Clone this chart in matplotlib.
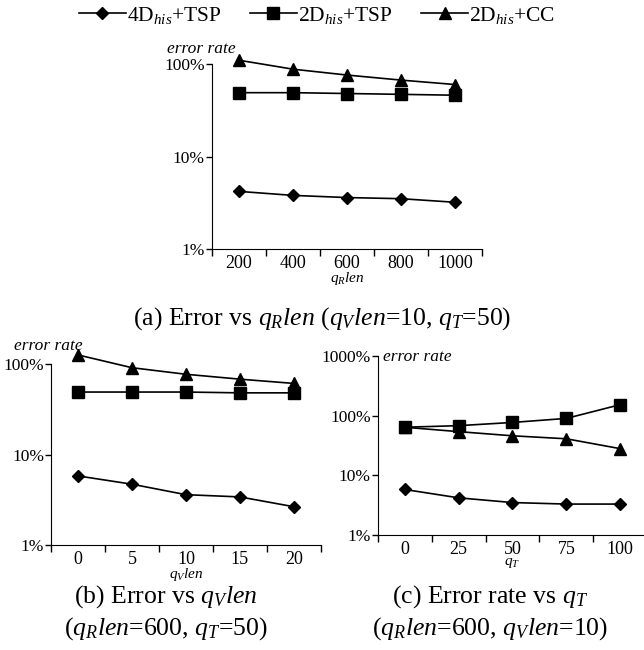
import matplotlib
matplotlib.use("Agg")
import matplotlib.pyplot as plt
import numpy as np

plt.rcParams['font.family'] = ['Liberation Serif', 'DejaVu Serif']
plt.rcParams['mathtext.fontset'] = 'custom'
plt.rcParams['mathtext.rm'] = 'Liberation Serif'
plt.rcParams['mathtext.it'] = 'Liberation Serif:italic'

# data (error rate in %)
a_labels = ['200', '400', '600', '800', '1000']
a_4d_tsp = [4.2, 3.8, 3.6, 3.5, 3.2]
a_2d_tsp = [49, 49, 48, 47, 46]
a_2d_cc = [110, 88, 76, 67, 60]

b_labels = ['0', '5', '10', '15', '20']
b_4d_tsp = [5.8, 4.7, 3.6, 3.4, 2.65]
b_2d_tsp = [49, 49, 49, 48, 48]
b_2d_cc = [126, 91, 77, 68, 61]

c_labels = ['0', '25', '50', '75', '100']
c_4d_tsp = [5.8, 4.2, 3.5, 3.3, 3.3]
c_2d_tsp = [64, 68, 77, 90, 153]
c_2d_cc = [64, 54, 46, 41, 28]

series_names = ['4D$_{his}$+TSP', '2D$_{his}$+TSP', '2D$_{his}$+CC']
markers = ['D', 's', '^']
msizes = [6.5, 8, 8.5]

fig = plt.figure(figsize=(6.44, 6.5), dpi=100)


def panel(rect, labels, series, ytop, xlabel, ylab_xy):
    ax = fig.add_axes(rect)
    x = np.arange(len(labels)) + 0.5
    lines = []
    for ys, m, ms, name in zip(series, markers, msizes, series_names):
        ln, = ax.plot(x, ys, color='black', lw=1.2, marker=m, ms=ms,
                      clip_on=False, label=name)
        lines.append(ln)
    ax.set_yscale('log')
    ax.set_ylim(1, ytop)
    ax.set_xlim(0, len(labels))
    yt = [1, 10, 100] + ([1000] if ytop >= 1000 else [])
    ax.set_yticks(yt)
    ax.set_yticklabels(['%d%%' % v for v in yt])
    ax.yaxis.set_minor_locator(matplotlib.ticker.NullLocator())
    ax.set_xticks(np.arange(len(labels) + 1))
    ax.set_xticklabels([''] * (len(labels) + 1))
    ax.set_xticks(x, minor=True)
    ax.set_xticklabels(labels, minor=True)
    ax.tick_params(axis='x', which='major', direction='out', length=5, width=1)
    ax.tick_params(axis='x', which='minor', length=0, labelsize=13, pad=4)
    ax.tick_params(axis='y', direction='out', length=4, width=1, labelsize=12.5, pad=1)
    ax.spines['top'].set_visible(False)
    ax.spines['right'].set_visible(False)
    ax.set_xlabel(xlabel, fontsize=11, labelpad=-1)
    fig.text(ylab_xy[0], ylab_xy[1], 'error rate', style='italic', fontsize=12.5,
             ha='center', va='center')
    return lines


lines = panel([0.3287, 0.6169, 0.4202, 0.2846], a_labels,
              [a_4d_tsp, a_2d_tsp, a_2d_cc], 100, '$q_{R}len$',
              (201 / 644, 1 - 49 / 650))
panel([0.0792, 0.1615, 0.4190, 0.2785], b_labels,
      [b_4d_tsp, b_2d_tsp, b_2d_cc], 100, '$q_{V}len$',
      (48 / 644, 1 - 346 / 650))
panel([0.5865, 0.1769, 0.4185, 0.2754], c_labels,
      [c_4d_tsp, c_2d_tsp, c_2d_cc], 1000, '$q_{T}$',
      (417 / 644, 1 - 357 / 650))

fig.legend(handles=lines, loc='center', bbox_to_anchor=(317 / 644, 1 - 15 / 650),
           ncol=3, frameon=False, fontsize=15.5, handlelength=2.2,
           columnspacing=1.3, handletextpad=0.05)

fig.text(322 / 644, 1 - 319 / 650,
         '(a) Error vs $q_{R}len$ ($q_{V}len$=10, $q_{T}$=50)',
         fontsize=18.5, ha='center', va='center')
fig.text(166 / 644, 1 - 597 / 650, '(b) Error vs $q_{V}len$',
         fontsize=18.5, ha='center', va='center')
fig.text(166 / 644, 1 - 629 / 650, '($q_{R}len$=600, $q_{T}$=50)',
         fontsize=18.5, ha='center', va='center')
fig.text(490 / 644, 1 - 597 / 650, '(c) Error rate vs $q_{T}$',
         fontsize=18.5, ha='center', va='center')
fig.text(490 / 644, 1 - 629 / 650, '($q_{R}len$=600, $q_{V}len$=10)',
         fontsize=18.5, ha='center', va='center')

fig.savefig('out.png', dpi=100)
